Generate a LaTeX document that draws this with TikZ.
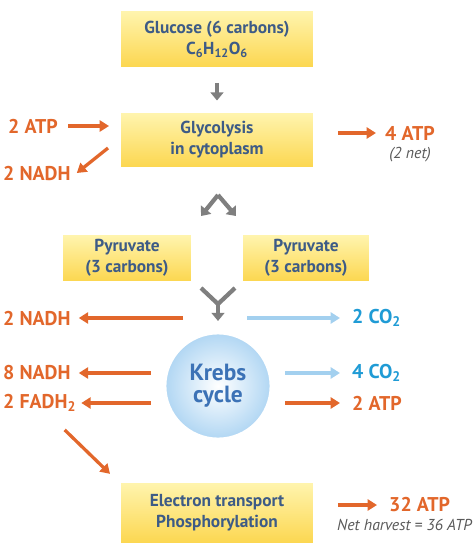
\documentclass[tikz,border=0pt]{standalone}
\usepackage{fontspec}
\setmainfont{PT Sans}
\usepackage{tikz}
\usepackage{xcolor}
\usetikzlibrary{calc,positioning,shadows,arrows.meta}
\definecolor{boxtop}{HTML}{FFF5B0}
\definecolor{boxbot}{HTML}{FCD64E}
\definecolor{boxtext}{HTML}{3D5B86}
\definecolor{orng}{HTML}{E2672B}
\definecolor{skyarrow}{HTML}{A3D0EF}
\definecolor{cotext}{HTML}{1F9BD5}
\definecolor{krebstext}{HTML}{3C72B6}
\definecolor{krebsfill}{HTML}{B0D6F3}
\definecolor{arrowgray}{HTML}{7F7F7F}
\tikzset{
  stage/.style={ % image of a yellow process box
    rectangle, draw=white, line width=2.5pt,
    top color=boxtop, bottom color=boxbot,
    minimum width=5.85cm, align=center,
    text=boxtext, font=\fontsize{14.8}{18}\selectfont\bfseries,
    drop shadow={opacity=0.18, shadow xshift=0pt, shadow yshift=-1pt}
  },
  krebs/.style={ % image of the Krebs cycle disc
    circle, draw=white, line width=3pt,
    inner color=white, outer color=krebsfill,
    minimum size=3.2cm, align=center,
    text=krebstext, font=\fontsize{20}{19}\selectfont\bfseries,
    drop shadow={opacity=0.18, shadow xshift=0pt, shadow yshift=-1pt}
  },
  gain/.style={ % orange product label
    inner sep=0pt, anchor=west, text=orng,
    font=\fontsize{17}{18}\selectfont\bfseries
  },
  gas/.style={ % blue CO2 label
    gain, text=cotext
  },
  note/.style={ % grey italic remark
    inner sep=0pt, text=black!65,
    font=\fontsize{13.5}{14}\selectfont\itshape
  },
  orarrow/.style={draw=orng, line width=2.8pt, -{Triangle[length=8pt, width=9.5pt]}},
  skyarrow/.style={draw=skyarrow, line width=2.8pt, -{Triangle[length=8pt, width=9.5pt]}},
  grayarrow/.style={draw=arrowgray, line width=3.6pt, -{Triangle[length=7pt, width=11pt]}}
}

\begin{document}
\begin{tikzpicture}[x=0.03cm, y=-0.03cm]
  \useasboundingbox (0,0) rectangle (474,550);

  % process boxes
  \node[stage, minimum height=1.74cm] (glucose) at (217,39)
    {Glucose (6 carbons)\\C\textsubscript{6}H\textsubscript{12}O\textsubscript{6}};
  \node[stage, minimum height=1.68cm] (glyco) at (217,140) {Glycolysis\\in cytoplasm};
  \node[stage, minimum width=3.9cm, minimum height=1.44cm] (pyrL) at (127,258) {Pyruvate\\(3 carbons)};
  \node[stage, minimum width=3.85cm, minimum height=1.44cm] (pyrR) at (306,258) {Pyruvate\\(3 carbons)};
  \node[krebs] (krebs) at (218,386) {Krebs\\cycle};
  \node[stage, minimum height=1.9cm] (etc) at (217,513) {Electron transport\\Phosphorylation};

  % labels
  \node[gain] (atpIn) at (8,126) {2 ATP};
  \node[gain] (nadhA) at (3,173) {2 NADH};
  \node[gain] (atpA) at (385,133) {4 ATP};
  \node[note, below=6pt of atpA] (net) {(2 net)};
  \node[gain] (nadhB) at (3,318) {2 NADH};
  \node[gas] (co2A) at (352,318) {2 CO\textsubscript{2}};
  \node[gain] (nadhC) at (3,373) {8 NADH};
  \node[gain] (fadh) at (3,403) {2 FADH\textsubscript{2}};
  \node[gas] (co2B) at (352,373) {4 CO\textsubscript{2}};
  \node[gain] (atpB) at (352,403) {2 ATP};
  \node[gain] (atpC) at (389,505) {32 ATP};
  \node[note, anchor=east] (harvest) at (472,525) {Net harvest = 36 ATP};

  % glucose to glycolysis
  \draw[grayarrow, shorten <=0.4cm, shorten >=0.3cm] (glucose.south) -- (glyco.north);
  \draw[orarrow] ($(atpIn.east)+(10,0)$) -- ($(atpIn.east -| glyco.west)+(-9,0)$);
  \draw[orarrow] ($(glyco.west)+(-10,8)$) -- ($(nadhA.east)+(6,0)$);
  \draw[orarrow] ($(atpA.west -| glyco.east)+(22,0)$) -- ($(atpA.west)+(-9,0)$);

  % split into two pyruvates
  \coordinate (fork) at (218,195);
  \coordinate (forkL) at (201,216);
  \coordinate (forkR) at (236,216);
  \draw[grayarrow] (fork) -- (forkL);
  \draw[grayarrow] (fork) -- (forkR);

  % join towards the Krebs cycle
  \coordinate (joinL) at (201,288);
  \coordinate (joinR) at (235,288);
  \coordinate (join) at (218,304);
  \coordinate (joinTip) at (218,321);
  \draw[draw=arrowgray, line width=3.6pt, line join=miter] (joinL) -- (join) -- (joinR);
  \draw[grayarrow] (join) -- (joinTip);

  \draw[orarrow] ($(joinTip)+(-35,-3)$) -- ($(nadhB.east)+(8,0)$);
  \draw[skyarrow] ($(joinTip)+(29,-3)$) -- ($(co2A.west)+(-12,0)$);

  % Krebs cycle outputs
  \draw[orarrow] ($(nadhC.east -| krebs.west)+(-12,0)$) -- ($(nadhC.east)+(8,0)$);
  \draw[orarrow] ($(fadh.east -| krebs.west)+(-12,0)$) -- ($(fadh.east)+(5,0)$);
  \draw[skyarrow] ($(co2B.west -| krebs.east)+(12,0)$) -- ($(co2B.west)+(-12,0)$);
  \draw[orarrow] ($(atpB.west -| krebs.east)+(12,0)$) -- ($(atpB.west)+(-12,0)$);

  % electron transport
  \draw[orarrow] ($(fadh.south)+(25,18)$) -- ($(etc.north west)+(-8,-6)$);
  \draw[orarrow] ($(atpC.west -| etc.east)+(22,0)$) -- ($(atpC.west)+(-12,0)$);
\end{tikzpicture}
\end{document}
